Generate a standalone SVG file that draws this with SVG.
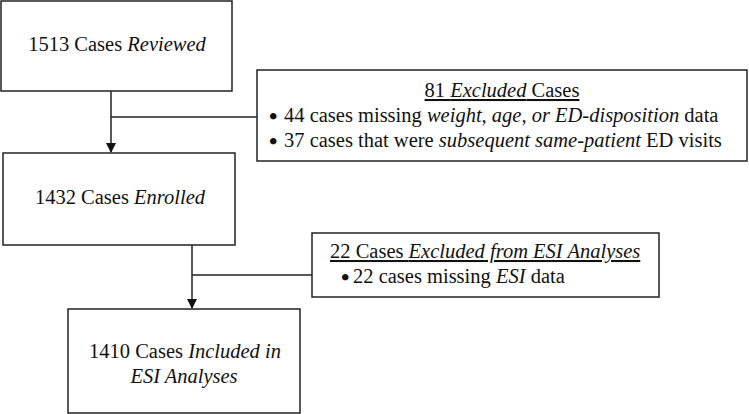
<svg xmlns="http://www.w3.org/2000/svg" width="749" height="414" viewBox="0 0 749 414">
<style>
.box{fill:#fff;stroke:#222;stroke-width:1.5}
.t{font-family:"Liberation Serif","Times New Roman",serif;font-size:20.5px;fill:#111}
.bu{font-size:24px;font-weight:bold}
.c{text-anchor:middle}
.i{font-style:italic}
.ln{fill:none;stroke:#222;stroke-width:1.5}
</style>
<defs>
<marker id="ah" markerWidth="10" markerHeight="10" refX="9" refY="5" orient="auto" markerUnits="userSpaceOnUse">
<path d="M0,0 L10,5 L0,10 Z" fill="#111"/>
</marker>
</defs>
<rect width="749" height="414" fill="#fff"/>
<g id="connectors">
<line class="ln" x1="111" y1="91" x2="111" y2="152" marker-end="url(#ah)"/>
<line class="ln" x1="111" y1="117" x2="257" y2="117"/>
<line class="ln" x1="192" y1="245" x2="192" y2="308" marker-end="url(#ah)"/>
<line class="ln" x1="192" y1="275" x2="312" y2="275"/>
</g>
<g id="reviewed">
<rect class="box" x="1" y="1" width="231" height="90"/>
<text class="t c" x="117" y="51">1513 Cases <tspan class="i">Reviewed</tspan></text>
</g>
<g id="excluded81">
<rect class="box" x="257" y="70" width="490" height="91"/>
<text class="t c" x="502" y="97" text-decoration="underline">81 <tspan class="i">Excluded</tspan> Cases</text>
<text class="t" x="269" y="124"><tspan class="bu">•</tspan><tspan x="284" y="122">44 cases missing <tspan class="i">weight, age, or ED-disposition</tspan> data</tspan></text>
<text class="t" x="269" y="149"><tspan class="bu">•</tspan><tspan x="284" y="147">37 cases that were <tspan class="i">subsequent same-patient</tspan> ED visits</tspan></text>
</g>
<g id="enrolled">
<rect class="box" x="3" y="153" width="232" height="92"/>
<text class="t c" x="120" y="204">1432 Cases <tspan class="i">Enrolled</tspan></text>
</g>
<g id="excluded22">
<rect class="box" x="312" y="233" width="347" height="64"/>
<text class="t" x="330" y="258" text-decoration="underline">22 Cases <tspan class="i">Excluded from ESI Analyses</tspan></text>
<text class="t" x="341" y="285"><tspan class="bu">•</tspan><tspan x="353" y="283">22 cases missing <tspan class="i">ESI</tspan> data</tspan></text>
</g>
<g id="included">
<rect class="box" x="68" y="309" width="232" height="104"/>
<text class="t c" x="185" y="358">1410 Cases <tspan class="i">Included in</tspan></text>
<text class="t c i" x="184" y="383">ESI Analyses</text>
</g>
</svg>
